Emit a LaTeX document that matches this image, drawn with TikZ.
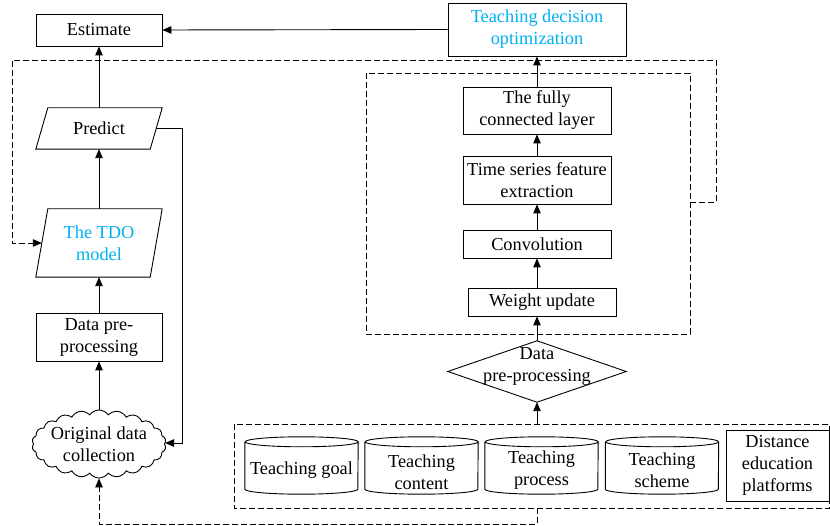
\documentclass[tikz,border=0pt]{standalone}
\usepackage{fontspec}
\setmainfont{Liberation Serif}
\usetikzlibrary{shapes.symbols,arrows.meta}
\definecolor{tblue}{RGB}{0,176,240}
\tikzset{
  x=1pt,y=1pt,
  every node/.style={font=\fontsize{18.3}{22}\selectfont, align=center, inner sep=0pt},
  ln/.style={line width=0.9pt},
  arr/.style={ln,-{Triangle[length=9pt,width=7.5pt]}},
  dsh/.style={ln,dash pattern=on 6pt off 3pt},
  darr/.style={dsh,-{Triangle[length=9pt,width=7.5pt]}},
  box/.style={draw,ln},
  plain/.style={draw=none},
  cylbox/.style={draw=none,minimum width=113pt,minimum height=57pt},
}
\newcommand\cylshape[1]{%
  \draw[ln] ([yshift=-5pt]#1.north west) -- ([yshift=5pt]#1.south west)
    arc[start angle=180,end angle=360,x radius=56.5pt,y radius=5pt]
    -- ([yshift=-5pt]#1.north east)
    arc[start angle=0,end angle=180,x radius=56.5pt,y radius=5pt]
    arc[start angle=180,end angle=360,x radius=56.5pt,y radius=5pt];}
\newcommand\parashape[1]{%
  \draw[ln] ([xshift=12pt]#1.north west) -- (#1.north east)
    -- ([xshift=-12pt]#1.south east) -- (#1.south west) -- cycle;}
\begin{document}
\begin{tikzpicture}
\useasboundingbox (0,0) rectangle (830,-526);
% left column
\node[box,minimum width=126pt,minimum height=32pt] (est) at (99,-30) {Estimate};
\node[plain,minimum width=126pt,minimum height=41pt] (pred) at (99,-128.5) {Predict};
\parashape{pred}
\node[plain,minimum width=126pt,minimum height=68pt,text=tblue] (tdo) at (99,-243) {The TDO\\model};
\parashape{tdo}
\node[box,minimum width=126pt,minimum height=48pt] (dpre) at (99,-337) {Data pre-\\processing};
\node[cloud,draw,ln,cloud puffs=22,cloud puff arc=110,minimum width=134pt,minimum height=68pt,aspect=2] (cloud) at (99,-444) {};
\node (cloudt) at (99,-444) {Original data\\collection};
% right column
\node[box,minimum width=178pt,minimum height=53pt,text=tblue] (tdopt) at (537,-29.5) {Teaching decision\\optimization};
\node[box,minimum width=148pt,minimum height=47pt] (fc) at (537,-110.5) {The fully\\connected layer};
\node[box,minimum width=148pt,minimum height=48pt] (ts) at (537,-180) {Time series feature\\extraction};
\node[box,minimum width=148pt,minimum height=28pt] (conv) at (537,-244) {Convolution};
\node[box,minimum width=148pt,minimum height=28pt] (wu) at (542,-302) {Weight update};
\node[plain,minimum width=178pt,minimum height=61pt] (dp) at (537,-371.5) {};
\draw[ln] (dp.north) -- (dp.east) -- (dp.south) -- (dp.west) -- cycle;
\node (dpt) at (537,-366) {Data\\pre-processing};
% inner dashed box
\coordinate (ib1) at (366,-73);
\coordinate (ib2) at (690,-334);
\draw[dsh] (ib1) rectangle (ib2);
% database container
\coordinate (db1) at (234,-424);
\coordinate (db2) at (829.5,-508);
\draw[dsh] (db1) rectangle (db2);
\node[cylbox] (c1) at (301.5,-465.5) {};
\node[cylbox] (c2) at (421.5,-465.5) {};
\node[cylbox] (c3) at (541.5,-465.5) {};
\node[cylbox] (c4) at (662,-465.5) {};
\cylshape{c1}\cylshape{c2}\cylshape{c3}\cylshape{c4}
\node (t1) at (301.5,-470) {Teaching goal};
\node (t2) at (421.5,-472) {Teaching\\content};
\node (t3) at (541.5,-470) {Teaching\\process};
\node (t4) at (662,-470) {Teaching\\scheme};
\node[box,minimum width=103pt,minimum height=71pt] (dep) at (777.5,-465.5) {Distance\\education\\platforms};
% arrows left column
\draw[arr] (cloud.north -| dpre.south) -- (dpre.south);
\draw[arr] (dpre.north) -- (tdo.south);
\draw[arr] (tdo.north) -- (pred.south);
\draw[arr] (pred.north) -- (est.south);
\draw[arr] ([xshift=-6pt]pred.east) -| (182,-443) -- (cloud.east |- 0,-443);
% arrows right column
\coordinate (dbtop) at (537,-424);
\draw[arr] (dbtop) -- (dp.south);
\draw[arr] (dp.north) -- (wu.south -| dp.north);
\draw[arr] (wu.north -| conv.south) -- (conv.south);
\draw[arr] (conv.north) -- (ts.south);
\draw[arr] (ts.north) -- (fc.south);
\draw[arr] (fc.north) -- (tdopt.south);
\draw[arr] (tdopt.west) -- (est.east);
% feedback dashed
\coordinate (fb) at (690,-202);
\draw[darr] (fb) -- (716,-202) -- (716,-60) -- (12,-60) -- (12,-243) -- ([xshift=6pt]tdo.west);
\coordinate (dbbot) at (537,-508);
\draw[darr] (dbbot) -- (537,-524) -- (99,-524) -- (cloud.south -| dpre.south);
\end{tikzpicture}
\end{document}
